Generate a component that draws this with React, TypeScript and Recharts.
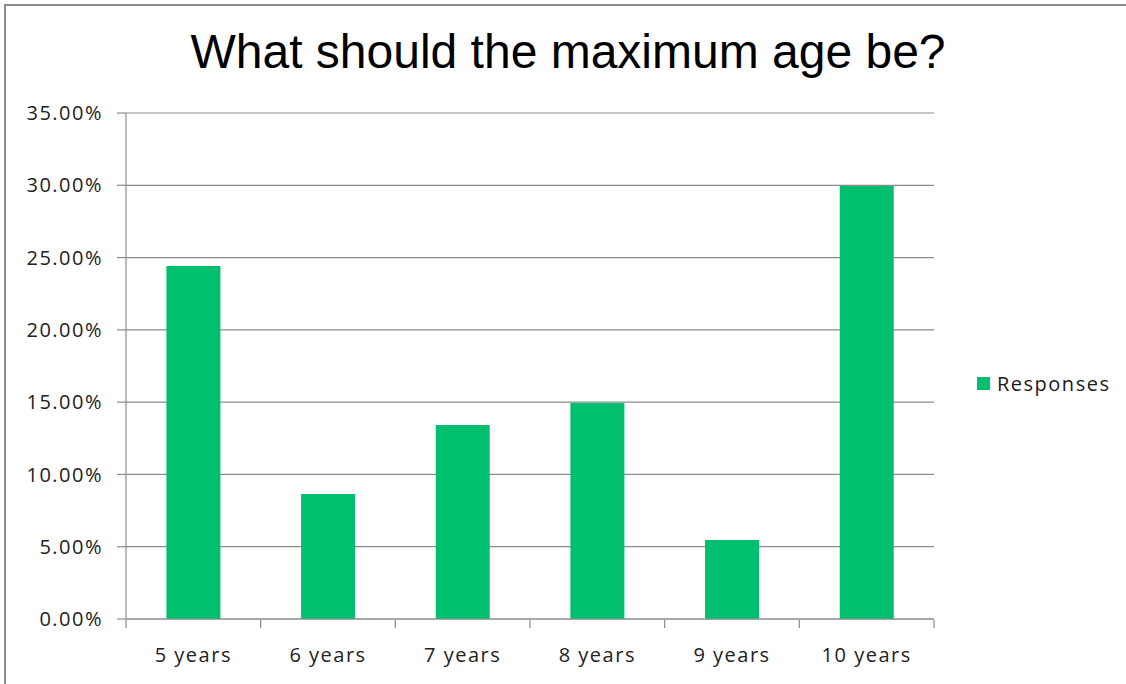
import { Bar, BarChart, CartesianGrid, Legend, XAxis, YAxis } from 'recharts';

const categories = ['5 years', '6 years', '7 years', '8 years', '9 years', '10 years'];
const responses = [0.2442, 0.0865, 0.1342, 0.1494, 0.0546, 0.2995];
const yTicks = [0, 0.05, 0.1, 0.15, 0.2, 0.25, 0.3, 0.35];
const boundaryTicks = [0, 1, 2, 3, 4, 5, 6];

const green = '#00bf6f';
const grey = '#8c8c8c';
const font = '"Open Sans", sans-serif';

const data = categories.map((name, i) => ({ name, value: responses[i], pos: i + 0.5 }));

const tickStyle = { fill: '#222', fontSize: 20, fontFamily: font, letterSpacing: 1.5 };
const formatPct = (v: number) => `${(v * 100).toFixed(2)}%`;

// boundary axis only shows tick marks, no labels
function EmptyTick() {
  return <g />;
}

function LegendBox() {
  return (
    <div style={{ display: 'flex', alignItems: 'center', fontFamily: font, fontSize: 20, letterSpacing: 1.5, color: '#1a1a1a' }}>
      <span style={{ width: 13, height: 13, background: green, marginRight: 7, display: 'inline-block' }} />
      Responses
    </div>
  );
}

export default function App() {
  return (
    <div style={{ position: 'relative', width: 1126, height: 684, background: '#fff', overflow: 'hidden' }}>
      <style>{'body{margin:0}'}</style>
      <div
        style={{
          position: 'absolute',
          left: 4,
          top: 4,
          width: 1130,
          height: 690,
          borderTop: `2px solid ${grey}`,
          borderLeft: `2px solid ${grey}`,
          boxSizing: 'border-box',
        }}
      />
      <div
        style={{
          position: 'absolute',
          left: 0,
          width: 1136,
          top: 24,
          textAlign: 'center',
          fontFamily: '"Liberation Sans", Arial, sans-serif',
          fontSize: 48,
          color: '#000',
        }}
      >
        What should the maximum age be?
      </div>
      <BarChart
        width={1126}
        height={684}
        data={data}
        margin={{ top: 113, right: 192, bottom: 14, left: 6 }}
        barCategoryGap="30%"
        style={{ position: 'absolute', left: 0, top: 0 }}
      >
        <CartesianGrid vertical={false} stroke={grey} strokeWidth={1.2} />
        <XAxis
          xAxisId="edge"
          dataKey="pos"
          type="number"
          domain={[0, 6]}
          ticks={boundaryTicks}
          height={50}
          axisLine={false}
          tick={EmptyTick}
          tickSize={8}
          stroke={grey}
          strokeWidth={1.2}
        />
        <XAxis
          dataKey="name"
          xAxisId="cat"
          height={1}
          stroke={grey}
          strokeWidth={1.2}
          tickLine={false}
          tick={tickStyle}
          tickMargin={23}
          interval={0}
        />
        <YAxis
          width={120}
          domain={[0, 0.35]}
          ticks={yTicks}
          tickFormatter={formatPct}
          tick={tickStyle}
          tickSize={9}
          tickMargin={14}
          stroke={grey}
          strokeWidth={1.2}
          interval={0}
        />
        <Legend
          content={<LegendBox />}
          layout="vertical"
          align="center"
          verticalAlign="middle"
          wrapperStyle={{ left: 977, top: 370, width: 150 }}
        />
        <Bar dataKey="value" xAxisId="cat" fill={green} isAnimationActive={false} />
      </BarChart>
    </div>
  );
}
